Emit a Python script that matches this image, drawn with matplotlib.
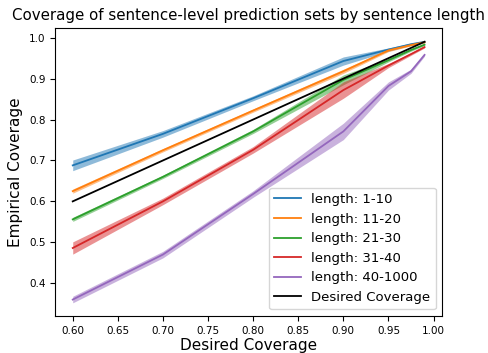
import numpy as np
import matplotlib
matplotlib.use("Agg")
import matplotlib.pyplot as plt

desired = [0.6, 0.7, 0.8, 0.9, 0.95, 0.975, 0.99]
labels = ["length: 1-10", "length: 11-20", "length: 21-30", "length: 31-40", "length: 40-1000"]

# mean empirical coverage per length bucket
means = [
    [0.688, 0.765, 0.852, 0.943, 0.971, 0.984, 0.990],
    [0.625, 0.725, 0.822, 0.918, 0.969, 0.982, 0.989],
    [0.556, 0.660, 0.771, 0.897, 0.945, 0.970, 0.983],
    [0.486, 0.600, 0.726, 0.872, 0.932, 0.960, 0.977],
    [0.360, 0.470, 0.618, 0.771, 0.882, 0.918, 0.958],
]
# half width of the shaded band
spread = [
    [0.013, 0.008, 0.006, 0.010, 0.004, 0.003, 0.002],
    [0.005, 0.004, 0.004, 0.005, 0.003, 0.002, 0.002],
    [0.005, 0.004, 0.005, 0.012, 0.004, 0.003, 0.002],
    [0.015, 0.008, 0.008, 0.020, 0.005, 0.003, 0.002],
    [0.008, 0.008, 0.008, 0.020, 0.010, 0.005, 0.003],
]

fig = plt.figure(figsize=(4.88, 3.53), dpi=100)
ax = fig.add_axes([0.113, 0.105, 0.793, 0.816])

x = np.array(desired)
for lab, m, s in zip(labels, means, spread):
    m = np.array(m)
    s = np.array(s)
    line, = ax.plot(x, m, label=lab, lw=1.3)
    ax.fill_between(x, m - s, m + s, color=line.get_color(), alpha=0.5, lw=0)
ax.plot(x, x, color="black", lw=1.3, label="Desired Coverage")

ax.set_title("Coverage of sentence-level prediction sets by sentence length", fontsize=10.8)
ax.set_xlabel("Desired Coverage", fontsize=11, labelpad=2)
ax.set_ylabel("Empirical Coverage", fontsize=11)
ax.tick_params(labelsize=7.5)
ax.legend(loc="lower right", fontsize=9.5)

fig.savefig("out.png", dpi=100)
